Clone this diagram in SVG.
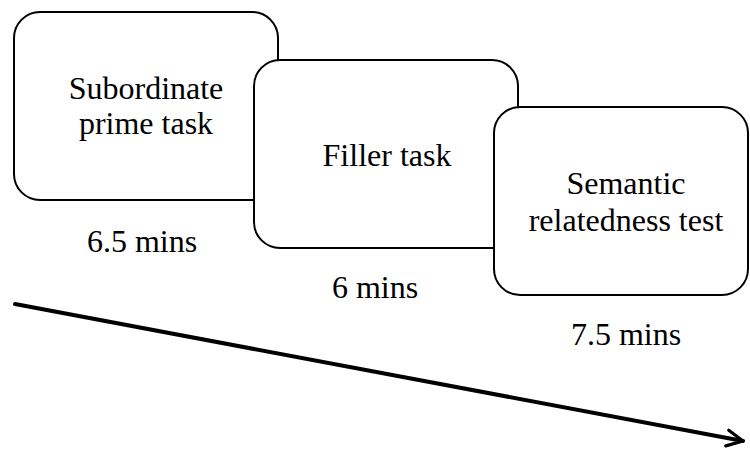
<svg xmlns="http://www.w3.org/2000/svg" width="750" height="450" viewBox="0 0 750 450">
  <defs>
    <style>
      .box { fill: #ffffff; stroke: #000000; stroke-width: 2; }
      .txt { font-family: 'Liberation Serif', 'Times New Roman', Tinos, 'DejaVu Serif', serif; font-size: 32px; fill: #000000; text-anchor: middle; }
      .conn { stroke: #000000; stroke-width: 4; fill: none; stroke-linecap: round; }
    </style>
    <marker id="arrow" viewBox="0 0 10 10" refX="9" refY="5" markerWidth="5" markerHeight="5" orient="auto" markerUnits="strokeWidth">
      <path d="M1,1 L9,5 L1,9" fill="none" stroke="#000000" stroke-width="1.6" stroke-linecap="round" stroke-linejoin="round"/>
    </marker>
  </defs>
  <rect width="750" height="450" fill="#ffffff"/>
  <g id="node-subordinate">
    <rect class="box" x="14" y="12" width="264" height="188" rx="26" ry="26"/>
    <text class="txt" x="146" y="99" font-family="'Liberation Serif', serif">Subordinate</text>
    <text class="txt" x="146" y="134" font-family="'Liberation Serif', serif">prime task</text>
    <text class="txt" x="142" y="252" font-family="'Liberation Serif', serif">6.5 mins</text>
  </g>
  <g id="node-filler">
    <rect class="box" x="254" y="60" width="264" height="188" rx="26" ry="26"/>
    <text class="txt" x="387" y="166" font-family="'Liberation Serif', serif">Filler task</text>
    <text class="txt" x="375" y="298" font-family="'Liberation Serif', serif">6 mins</text>
  </g>
  <g id="node-semantic">
    <rect class="box" x="494" y="107" width="254" height="188" rx="26" ry="26"/>
    <text class="txt" x="626" y="194" font-family="'Liberation Serif', serif">Semantic</text>
    <text class="txt" x="626" y="231" font-family="'Liberation Serif', serif">relatedness test</text>
    <text class="txt" x="626" y="345" font-family="'Liberation Serif', serif">7.5 mins</text>
  </g>
  <g id="connectors">
    <line class="conn" x1="15" y1="304" x2="743" y2="441" marker-end="url(#arrow)"/>
  </g>
</svg>
